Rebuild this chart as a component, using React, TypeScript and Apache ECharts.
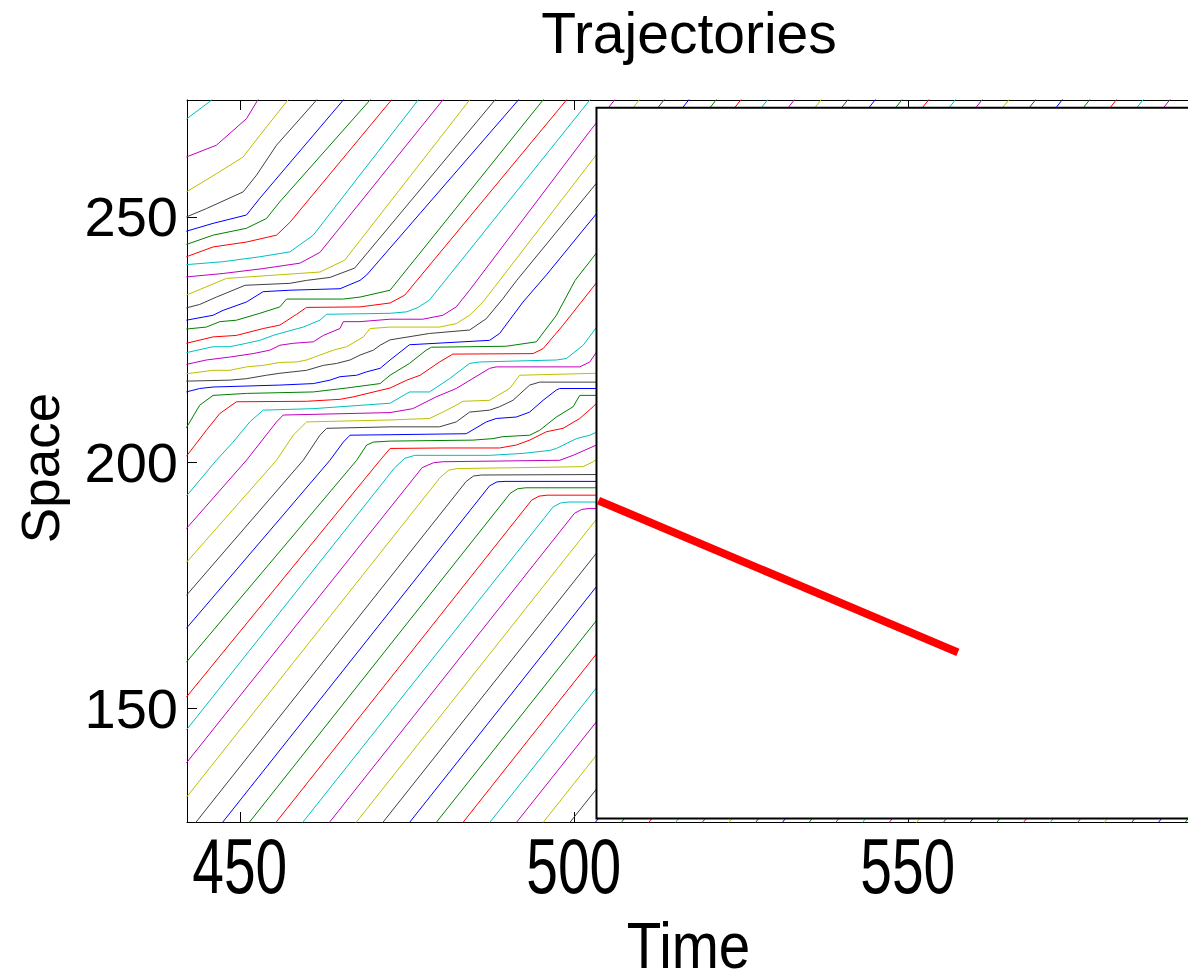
import React, { useEffect, useRef } from "react";
import * as echarts from "echarts";

const titleText = "Trajectories";
const timeLabel = "Time";
const spaceLabel = "Space";
const timeRange = [442.1, 592.25];
const spaceRange = [126.9, 273.8];
const timeTicks = [450, 500, 550];
const spaceTicks = [150, 200, 250];
const lineColorOrder = ["#0000ff", "#008000", "#ff0000", "#00bfbf", "#bf00bf", "#bfbf00", "#404040"];
const firstVehicleColor = 3;
const insetTime = [503.4, 600];
const insetSpace = [127.6, 272.2];
const shockLine = [[503.7, 192.3], [557.5, 161.4]];

const vehicle00 = [[442.0, 269.9], [445.8, 273.8], [446.5, 274.8]];
const vehicle01 = [[442.0, 262.2], [446.5, 264.6], [451.0, 270.0], [452.7, 273.8], [453.3, 274.8]];
const vehicle02 = [[442.0, 255.1], [446.5, 258.8], [450.5, 262.2], [453.0, 266.6], [457.2, 273.8], [457.8, 274.8]];
const vehicle03 = [[442.0, 250.0], [445.0, 251.7], [450.5, 255.1], [452.5, 258.5], [455.5, 264.6], [461.5, 273.8], [462.1, 274.8]];
const vehicle04 = [[442.0, 247.1], [446.0, 248.7], [451.0, 250.4], [453.0, 253.8], [455.3, 257.5], [465.5, 273.8], [466.1, 274.8]];
const vehicle05 = [[442.0, 244.4], [446.0, 246.3], [451.0, 247.7], [454.0, 249.7], [456.0, 253.1], [469.5, 273.8], [470.1, 274.8]];
const vehicle06 = [[442.0, 241.9], [446.0, 243.9], [451.0, 244.9], [455.5, 246.3], [457.5, 248.9], [472.7, 273.8], [473.3, 274.8]];
const vehicle07 = [[442.0, 240.3], [447.5, 240.9], [453.0, 241.9], [457.5, 242.9], [461.0, 246.3], [476.7, 273.8], [477.3, 274.8]];
const vehicle08 = [[442.0, 237.8], [447.5, 238.5], [453.5, 239.5], [459.0, 240.6], [462.0, 242.8], [480.4, 273.8], [481.0, 274.8]];
const vehicle09 = [[442.0, 234.1], [448.0, 237.5], [455.5, 238.2], [462.0, 238.8], [465.7, 241.2], [484.4, 273.8], [485.0, 274.8]];
const vehicle10 = [[442.0, 231.5], [444.0, 232.2], [446.5, 233.7], [450.8, 236.1], [457.5, 236.5], [460.0, 237.1], [463.5, 237.7], [467.2, 239.6], [488.2, 273.8], [488.8, 274.8]];
const vehicle11 = [[442.0, 229.0], [446.0, 230.0], [447.5, 231.0], [451.0, 232.7], [453.5, 234.8], [457.5, 235.1], [465.0, 235.4], [468.0, 237.1], [469.0, 238.2], [491.7, 273.8], [492.3, 274.8]];
const vehicle12 = [[442.0, 227.2], [445.0, 227.6], [447.0, 228.7], [449.5, 229.0], [453.0, 230.4], [456.0, 231.7], [457.0, 233.3], [465.5, 233.3], [468.0, 233.7], [472.5, 235.1], [495.4, 273.8], [496.0, 274.8]];
const vehicle13 = [[442.0, 224.3], [446.0, 225.6], [449.5, 225.9], [453.5, 227.3], [456.0, 228.0], [458.5, 230.2], [460.0, 231.6], [468.0, 231.7], [472.5, 232.5], [474.7, 234.1], [498.9, 273.8], [499.5, 274.8]];
const vehicle14 = [[442.0, 222.4], [446.0, 223.6], [448.5, 223.6], [451.0, 224.3], [453.0, 224.9], [455.0, 225.9], [456.0, 226.3], [459.5, 227.6], [462.0, 229.0], [463.0, 230.2], [472.5, 230.4], [475.0, 230.7], [476.7, 231.6], [478.4, 233.1], [502.4, 273.8], [503.0, 274.8]];
const vehicle15 = [[442.0, 220.0], [445.0, 220.9], [448.5, 221.5], [452.0, 222.2], [454.5, 222.9], [456.0, 223.9], [458.0, 224.3], [461.0, 224.6], [462.5, 225.9], [465.0, 227.3], [465.5, 228.7], [468.0, 228.7], [472.5, 229.2], [477.4, 229.2], [480.4, 230.0], [482.4, 231.7], [484.4, 235.1], [502.6, 267.8], [506.8, 275.0]];
const vehicle16 = [[442.0, 218.1], [446.0, 218.8], [448.5, 218.8], [451.0, 219.5], [453.5, 219.8], [456.0, 220.4], [458.5, 220.5], [460.0, 220.9], [462.0, 221.9], [464.0, 222.9], [466.0, 223.6], [468.5, 225.6], [469.5, 227.3], [472.5, 227.6], [479.9, 227.6], [482.4, 228.3], [484.4, 230.0], [486.4, 232.7], [488.4, 236.2], [506.3, 267.8], [510.5, 275.0]];
const vehicle17 = [[442.0, 216.6], [448.5, 216.8], [451.0, 217.1], [454.0, 217.8], [456.0, 218.2], [458.0, 218.5], [460.0, 218.8], [462.5, 219.8], [464.5, 220.2], [466.5, 220.9], [468.0, 221.9], [470.0, 222.9], [471.0, 223.9], [472.5, 225.0], [478.4, 226.3], [484.4, 227.0], [486.9, 229.3], [489.4, 233.4], [491.4, 237.0], [510.0, 267.8], [514.2, 275.0]];
const vehicle18 = [[442.0, 214.4], [444.0, 215.1], [446.0, 215.4], [456.0, 215.8], [461.0, 216.1], [463.5, 216.8], [465.0, 217.5], [467.5, 217.8], [469.0, 218.5], [471.0, 219.2], [472.5, 220.9], [475.4, 224.0], [487.4, 224.9], [488.9, 226.3], [492.4, 232.7], [495.9, 238.2], [513.7, 267.8], [517.9, 275.0]];
const vehicle19 = [[442.0, 207.1], [444.0, 211.7], [446.0, 213.7], [451.0, 214.1], [461.0, 214.4], [466.0, 215.2], [471.0, 216.1], [472.5, 217.8], [475.4, 220.2], [477.9, 222.9], [478.7, 223.5], [489.9, 223.7], [494.4, 224.6], [497.4, 230.0], [500.2, 237.1], [517.8, 267.8], [522.0, 275.0]];
const vehicle20 = [[442.0, 201.3], [445.0, 206.6], [447.0, 210.0], [449.5, 212.4], [460.0, 212.5], [465.0, 212.9], [467.0, 213.4], [472.5, 215.2], [475.0, 216.8], [477.0, 217.8], [479.9, 220.5], [481.9, 222.1], [493.9, 222.2], [495.4, 223.2], [498.4, 228.0], [521.5, 267.8], [525.7, 275.0]];
const vehicle21 = [[442.0, 193.2], [446.5, 200.5], [449.0, 204.2], [451.5, 208.3], [453.5, 210.7], [461.0, 211.0], [472.5, 212.1], [475.4, 214.4], [478.4, 214.4], [481.4, 217.1], [484.4, 220.2], [485.9, 220.5], [497.4, 220.9], [498.9, 221.2], [501.4, 223.9], [525.5, 267.8], [529.7, 275.0]];
const vehicle22 = [[442.0, 186.6], [451.0, 200.5], [455.5, 208.3], [456.5, 209.7], [472.5, 210.2], [475.9, 211.0], [479.4, 213.4], [482.4, 215.1], [487.4, 219.2], [488.4, 219.5], [500.9, 219.5], [502.4, 220.5], [503.4, 222.5], [529.5, 267.8], [533.7, 275.0]];
const vehicle23 = [[442.0, 179.7], [455.5, 200.5], [458.0, 205.6], [460.0, 208.3], [472.5, 208.7], [478.4, 209.0], [480.4, 210.3], [482.4, 211.7], [483.4, 212.5], [487.4, 212.7], [490.4, 215.1], [491.9, 217.8], [503.4, 218.2], [533.5, 267.8], [537.7, 275.0]];
const vehicle24 = [[442.0, 173.0], [459.5, 200.5], [462.0, 205.6], [463.0, 207.0], [472.5, 207.3], [479.9, 207.3], [482.4, 208.3], [484.4, 210.3], [487.4, 210.7], [488.9, 211.4], [490.9, 212.7], [493.4, 215.8], [494.9, 216.4], [503.4, 216.4], [537.5, 267.8], [541.7, 275.0]];
const vehicle25 = [[442.0, 166.3], [463.5, 200.5], [465.5, 204.2], [466.5, 205.6], [472.5, 205.7], [483.9, 205.9], [486.9, 208.3], [488.4, 209.0], [491.4, 209.3], [493.4, 210.3], [495.4, 212.7], [497.4, 214.8], [497.9, 215.1], [503.4, 215.1], [541.6, 267.8], [545.8, 275.0]];
const vehicle26 = [[442.0, 159.4], [467.5, 200.5], [469.0, 203.6], [470.0, 204.2], [472.5, 204.4], [484.9, 204.6], [487.9, 204.9], [489.4, 205.3], [493.4, 205.6], [494.9, 206.6], [497.4, 209.3], [499.9, 211.4], [500.9, 213.7], [503.4, 213.7], [545.6, 267.8], [549.8, 275.0]];
const vehicle27 = [[442.0, 152.3], [471.0, 200.5], [472.5, 202.9], [480.4, 203.0], [488.9, 203.0], [491.4, 203.6], [493.4, 204.6], [495.9, 206.3], [498.4, 207.0], [500.9, 209.0], [502.9, 211.4], [503.4, 212.1], [549.6, 267.8], [553.8, 275.0]];
const vehicle28 = [[442.0, 145.6], [473.2, 199.0], [474.7, 200.9], [476.2, 201.5], [487.4, 201.5], [492.4, 201.9], [496.4, 202.5], [497.4, 202.9], [500.4, 204.9], [502.4, 205.6], [503.4, 206.2], [553.6, 267.8], [557.8, 275.0]];
const vehicle29 = [[442.0, 138.9], [477.3, 199.0], [479.0, 200.0], [480.4, 200.2], [497.9, 200.5], [499.9, 201.5], [503.4, 203.6], [557.6, 267.8], [561.8, 275.0]];
const vehicle30 = [[442.0, 131.9], [480.0, 197.0], [481.3, 198.5], [482.5, 198.8], [501.4, 199.2], [502.9, 200.2], [503.4, 200.7], [561.6, 267.8], [565.8, 275.0]];
const vehicle31 = [[443.0, 126.1], [483.9, 196.2], [485.0, 197.3], [486.2, 197.5], [503.4, 197.6], [565.6, 267.8], [569.8, 275.0]];
const vehicle32 = [[447.0, 126.1], [487.4, 195.3], [488.5, 196.1], [489.7, 196.2], [503.4, 196.2], [569.6, 267.8], [573.8, 275.0]];
const vehicle33 = [[451.0, 126.1], [490.5, 193.8], [491.6, 194.7], [492.8, 194.9], [503.4, 194.9], [573.7, 267.8], [577.9, 275.0]];
const vehicle34 = [[455.0, 126.1], [493.7, 192.4], [494.8, 193.2], [496.0, 193.4], [503.4, 193.4], [577.7, 267.8], [581.9, 275.0]];
const vehicle35 = [[459.0, 126.1], [496.9, 191.0], [498.0, 191.8], [499.2, 192.0], [503.4, 192.0], [581.7, 267.8], [585.9, 275.0]];
const vehicle36 = [[463.0, 126.1], [500.1, 189.7], [501.2, 190.5], [502.4, 190.7], [503.4, 190.7], [585.7, 267.8], [589.9, 275.0]];
const vehicle37 = [[467.0, 126.1], [503.4, 188.5], [505.0, 190.0]];
const vehicle38 = [[471.0, 126.1], [503.4, 181.6], [505.0, 183.0]];
const vehicle39 = [[475.0, 126.1], [503.4, 174.8], [505.0, 176.0]];
const vehicle40 = [[479.0, 126.1], [503.4, 167.9], [505.0, 169.0]];
const vehicle41 = [[483.0, 126.1], [503.4, 161.1], [505.0, 162.0]];
const vehicle42 = [[487.0, 126.1], [503.4, 154.2], [505.0, 155.0]];
const vehicle43 = [[491.0, 126.1], [503.4, 147.3], [505.0, 148.0]];
const vehicle44 = [[495.0, 126.1], [503.4, 140.5], [505.0, 141.0]];
const vehicle45 = [[499.0, 126.1], [503.4, 133.6], [505.0, 134.5]];

const insetVehicles = [
  [[502.8, 126.1], [505.8, 131.2]],
  [[506.7, 126.1], [509.7, 131.2]],
  [[510.8, 126.1], [513.8, 131.2]],
  [[514.8, 126.1], [517.8, 131.2]],
  [[518.8, 126.1], [521.8, 131.2]],
  [[522.8, 126.1], [525.8, 131.2]],
  [[526.8, 126.1], [529.8, 131.2]],
  [[530.8, 126.1], [533.8, 131.2]],
  [[534.8, 126.1], [537.8, 131.2]],
  [[538.8, 126.1], [541.8, 131.2]],
  [[542.8, 126.1], [545.8, 131.2]],
  [[546.8, 126.1], [549.8, 131.2]],
  [[550.9, 126.1], [553.9, 131.2]],
  [[554.9, 126.1], [557.9, 131.2]],
  [[558.9, 126.1], [561.9, 131.2]],
  [[562.9, 126.1], [565.9, 131.2]],
  [[566.9, 126.1], [569.9, 131.2]],
  [[570.9, 126.1], [573.9, 131.2]],
  [[575.0, 126.1], [578.0, 131.2]],
  [[579.0, 126.1], [582.0, 131.2]],
  [[583.1, 126.1], [586.1, 131.2]],
  [[587.1, 126.1], [590.1, 131.2]],
  [[591.1, 126.1], [594.1, 131.2]],
];

const vehicles = [
  vehicle00, vehicle01, vehicle02, vehicle03, vehicle04, vehicle05, vehicle06, vehicle07, vehicle08, vehicle09,
  vehicle10, vehicle11, vehicle12, vehicle13, vehicle14, vehicle15, vehicle16, vehicle17, vehicle18, vehicle19,
  vehicle20, vehicle21, vehicle22, vehicle23, vehicle24, vehicle25, vehicle26, vehicle27, vehicle28, vehicle29,
  vehicle30, vehicle31, vehicle32, vehicle33, vehicle34, vehicle35, vehicle36, vehicle37, vehicle38, vehicle39,
  vehicle40, vehicle41, vehicle42, vehicle43, vehicle44, vehicle45,
  ...insetVehicles,
];

const sansFont = "'Liberation Sans', Arial, Helvetica, sans-serif";

export default function App() {
  const ref = useRef<HTMLDivElement>(null);

  useEffect(() => {
    if (!ref.current) return;
    const chart = echarts.init(ref.current, null, { renderer: "svg" });

    const series: any[] = vehicles.map((pts, i) => ({
      type: "line",
      data: pts,
      symbol: "none",
      showSymbol: false,
      silent: true,
      clip: true,
      z: 2,
      lineStyle: { color: lineColorOrder[(i + firstVehicleColor) % 7], width: 1 },
    }));

    series.push({
      type: "custom",
      silent: true,
      clip: false,
      z: 5,
      data: [[insetTime[0], insetSpace[0]]],
      renderItem: (_params: any, api: any) => {
        const p0 = api.coord([insetTime[0], insetSpace[1]]);
        const p1 = api.coord([insetTime[1], insetSpace[0]]);
        return {
          type: "rect",
          shape: { x: p0[0], y: p0[1], width: p1[0] - p0[0], height: p1[1] - p0[1] },
          style: { fill: "#ffffff", stroke: "#000000", lineWidth: 2 },
        };
      },
    });

    series.push({
      type: "line",
      data: shockLine,
      symbol: "none",
      showSymbol: false,
      silent: true,
      clip: false,
      z: 20,
      lineStyle: { color: "#ff0000", width: 8, cap: "butt" },
    });

    const axisCommon = {
      type: "value",
      splitLine: { show: false },
      axisLine: { show: true, onZero: false, lineStyle: { color: "#000", width: 1 } },
    };

    chart.setOption({
      animation: false,
      backgroundColor: "#ffffff",
      grid: { left: 187, top: 100, width: 1003, height: 722, containLabel: false, outerBoundsMode: "none" },
      xAxis: [
        {
          ...axisCommon,
          min: timeRange[0],
          max: timeRange[1],
          position: "bottom",
          axisTick: { show: true, inside: true, length: 10, customValues: timeTicks, lineStyle: { color: "#000" } },
          axisLabel: { show: false },
        },
        {
          ...axisCommon,
          min: timeRange[0],
          max: timeRange[1],
          position: "top",
          axisTick: { show: true, inside: true, length: 10, customValues: timeTicks, lineStyle: { color: "#000" } },
          axisLabel: { show: false },
        },
      ],
      yAxis: [
        {
          ...axisCommon,
          min: spaceRange[0],
          max: spaceRange[1],
          position: "left",
          axisTick: { show: true, inside: true, length: 10, customValues: spaceTicks, lineStyle: { color: "#000" } },
          axisLabel: { customValues: spaceTicks, margin: 9, color: "#000", fontSize: 56, fontFamily: sansFont },
        },
      ],
      series,
    });

    // Place the horizontally-condensed time labels at the axis' own tick positions.
    const gridLeft = chart.convertToPixel({ xAxisIndex: 0 }, timeRange[0]) as number;
    const gridRight = chart.convertToPixel({ xAxisIndex: 0 }, timeRange[1]) as number;
    const gridBottom = chart.convertToPixel({ yAxisIndex: 0 }, spaceRange[0]) as number;
    const gridTop = chart.convertToPixel({ yAxisIndex: 0 }, spaceRange[1]) as number;
    const axisMidX = (gridLeft + gridRight) / 2;
    const axisMidY = (gridTop + gridBottom) / 2;

    const tickTexts = timeTicks.map((v) => ({
      type: "text",
      x: chart.convertToPixel({ xAxisIndex: 0 }, v) as number,
      y: gridBottom + 44.5,
      scaleX: 0.74,
      silent: true,
      style: {
        text: String(v),
        align: "center",
        verticalAlign: "middle",
        fill: "#000",
        fontSize: 77,
        fontFamily: sansFont,
      },
    }));

    chart.setOption({
      graphic: [
        {
          type: "text",
          x: 689,
          y: 33,
          silent: true,
          style: { text: titleText, align: "center", verticalAlign: "middle", fill: "#000", fontSize: 57, fontFamily: sansFont },
        },
        ...tickTexts,
        {
          type: "text",
          x: axisMidX,
          y: gridBottom + 124,
          scaleX: 0.87,
          silent: true,
          style: {
            text: timeLabel,
            align: "center",
            verticalAlign: "middle",
            fill: "#000",
            fontSize: 65,
            lineHeight: 46,
            fontFamily: sansFont,
          },
        },
        {
          type: "text",
          x: 40,
          y: axisMidY + 7,
          rotation: Math.PI / 2,
          silent: true,
          style: { text: spaceLabel, align: "center", verticalAlign: "middle", fill: "#000", fontSize: 53, fontFamily: sansFont },
        },
      ],
    });

    return () => chart.dispose();
  }, []);

  return (
    <div
      ref={ref}
      style={{ position: "absolute", left: 0, top: 0, width: 1188, height: 974, background: "#fff" }}
    />
  );
}
